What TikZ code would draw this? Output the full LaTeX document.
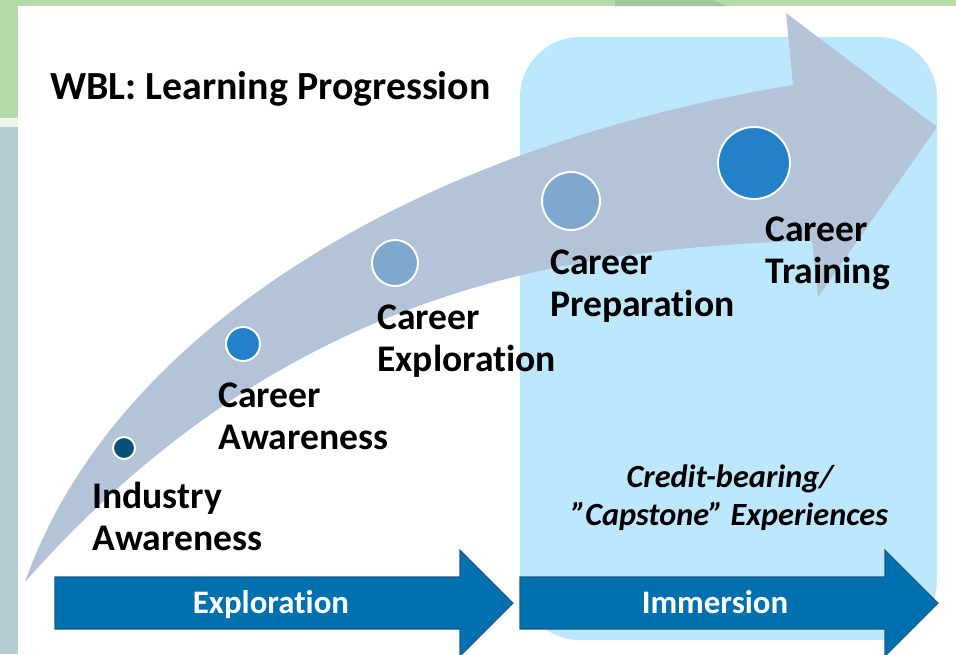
\documentclass[tikz,border=0pt]{standalone}
\usepackage{fontspec}
\setmainfont{Carlito}[Ligatures=NoCommon]
\usepackage{tikz}
\usetikzlibrary{positioning}

\definecolor{topgreen}{HTML}{B6D9A8}
\definecolor{darkgreen}{HTML}{9FC79B}
\definecolor{edgepale}{HTML}{EEF5EC}
\definecolor{edgeteal}{HTML}{B4CBD0}
\definecolor{panelblue}{HTML}{BDE7FC}
\definecolor{bandgray}{HTML}{B3C3D8}
\definecolor{blockblue}{HTML}{0070AE}
\definecolor{blockline}{HTML}{175C89}
\definecolor{dotdark}{HTML}{0B4F7A}
\definecolor{dotmid}{HTML}{2381C9}
\definecolor{dotlight}{HTML}{80A8CF}

\begin{document}
\begin{tikzpicture}[x=0.02cm, y=-0.02cm,
    stage/.style={anchor=base west, align=left, inner sep=0pt, font=\bfseries\fontsize{21.4}{23.9}\selectfont},
    dot/.style={circle, draw=white, line width=1.1pt, inner sep=0pt},
    block/.style={fill=blockblue, draw=blockline, line width=0.6pt},
    blocktext/.style={anchor=base, inner sep=0pt, text=white, font=\bfseries\fontsize{18.7}{21}\selectfont}]
    \useasboundingbox (0,0) rectangle (956,654);
    \clip (0,0) rectangle (956,654);

    % background
    \fill[white] (0,0) rectangle (956,654);
    \fill[topgreen] (0,0) rectangle (956,6);
    \fill[darkgreen] (615,0) -- (712,0) -- (727,6) -- (615,6) -- cycle;
    \fill[topgreen] (0,0) rectangle (18,118);
    \fill[edgepale] (0,118) rectangle (18,127);
    \fill[edgeteal] (0,127) rectangle (18,654);

    \fill[panelblue, rounded corners=1.2cm] (520,37) rectangle (937,640);

    % curved arrow
    \fill[bandgray] (25,582) .. controls (110,340) and (400,150) .. (793,85) -- (786,13) -- (937,127) -- (818,297) -- (812,240) .. controls (600,250) and (300,270) .. (25,582) -- cycle;

    \node[stage, font=\bfseries\fontsize{22.7}{26}\selectfont] (title) at (50,99) {WBL: Learning Progression};

    \node[dot, fill=dotdark, minimum size=0.44cm] (industry) at (124,448) {};
    \node[dot, fill=dotmid, minimum size=0.68cm] (awareness) at (243,344) {};
    \node[dot, fill=dotlight, minimum size=0.92cm] (exploration) at (395,263) {};
    \node[dot, fill=dotlight, minimum size=1.16cm] (preparation) at (571,201) {};
    \node[dot, fill=dotmid, minimum size=1.44cm] (training) at (754,163) {};

    \node[stage] (industry-lbl) at (92,550) {Industry\\Awareness};
    \node[stage] (awareness-lbl) at (218,449) {Career\\Awareness};
    \node[stage] (exploration-lbl) at (377,371) {Career\\Exploration};
    \node[stage] (preparation-lbl) at (550,316) {Career\\Preparation};
    \node[stage] (training-lbl) at (765,283) {Career\\Training};

    \node[anchor=base, align=center, inner sep=0pt, font=\bfseries\itshape\fontsize{18.4}{21.6}\selectfont] (capstone) at (730,525) {Credit-bearing/\\”Capstone” Experiences};

    % bottom arrows
    \draw[block] (55,577) -- (460,577) -- (460,550) -- (513,603) -- (460,656) -- (460,629) -- (55,629) -- cycle;
    \node[blocktext] (explore) at (271,613) {Exploration};
    \draw[block] (520,577) -- (885,577) -- (885,550) -- (938,603) -- (885,656) -- (885,629) -- (520,629) -- cycle;
    \node[blocktext] (immerse) at (715,613) {Immersion};
\end{tikzpicture}
\end{document}
